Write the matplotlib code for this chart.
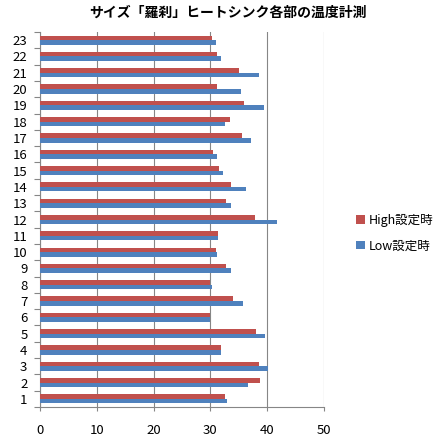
import numpy as np
import matplotlib
matplotlib.use("Agg")
import matplotlib.pyplot as plt

plt.rcParams["font.family"] = ["Noto Sans CJK JP", "DejaVu Sans"]

# ─────────────────────────────────────────────
# データ
# ─────────────────────────────────────────────
parts = [str(i) for i in range(1, 24)]
high_temp = [32.6, 38.8, 38.5, 31.9, 38.0, 30.0, 33.9, 30.0, 32.8, 30.9,
             31.4, 37.8, 32.8, 33.7, 31.6, 30.5, 35.6, 33.4, 36.0, 31.2,
             35.1, 31.2, 30.2]
low_temp = [33.0, 36.7, 40.2, 31.8, 39.6, 29.9, 35.8, 30.2, 33.7, 31.1,
            31.4, 41.8, 33.7, 36.3, 32.3, 31.2, 37.1, 32.6, 39.5, 35.3,
            38.6, 31.9, 30.9]
series_names = ["High設定時", "Low設定時"]
title = "サイズ「羅刹」ヒートシンク各部の温度計測"

RED = "#C0504D"
BLUE = "#4F81BD"
GRID = "#868686"

fig = plt.figure(figsize=(4.4, 4.4), dpi=100)
ax = fig.add_axes([40 / 440, 33 / 440, 284 / 440, 375 / 440])

y = np.arange(len(parts))
h = 0.28
ax.barh(y + h / 2, high_temp, height=h, color=RED, label=series_names[0], zorder=3)
ax.barh(y - h / 2, low_temp, height=h, color=BLUE, label=series_names[1], zorder=3)

ax.set_xlim(0, 50)
ax.set_ylim(-0.5, len(parts) - 0.5)
ax.set_xticks(range(0, 51, 10))
ax.set_yticks(y)
ax.set_yticklabels(parts)
ax.set_yticks(np.arange(-0.5, len(parts), 1.0), minor=True)

ax.xaxis.grid(True, color=GRID, linewidth=0.8, zorder=0)
for side in ["top", "right"]:
    ax.spines[side].set_visible(False)
for side in ["left", "bottom"]:
    ax.spines[side].set_color(GRID)
    ax.spines[side].set_linewidth(0.8)

ax.tick_params(axis="y", which="major", length=0, pad=9, labelsize=9.5)
ax.tick_params(axis="y", which="minor", length=4, color=GRID, width=0.8)
ax.tick_params(axis="x", which="major", length=3, color=GRID, width=0.8,
               pad=9, labelsize=9.5)

fig.text(0.517, 0.972, title, ha="center", va="center",
         fontsize=10, fontweight="bold")

fig.legend(loc="center left", bbox_to_anchor=(345 / 440, 0.47), frameon=False,
           fontsize=9, handlelength=0.7, handleheight=0.7,
           handletextpad=0.3, labelspacing=1.0)

fig.savefig("out.png", dpi=100)
